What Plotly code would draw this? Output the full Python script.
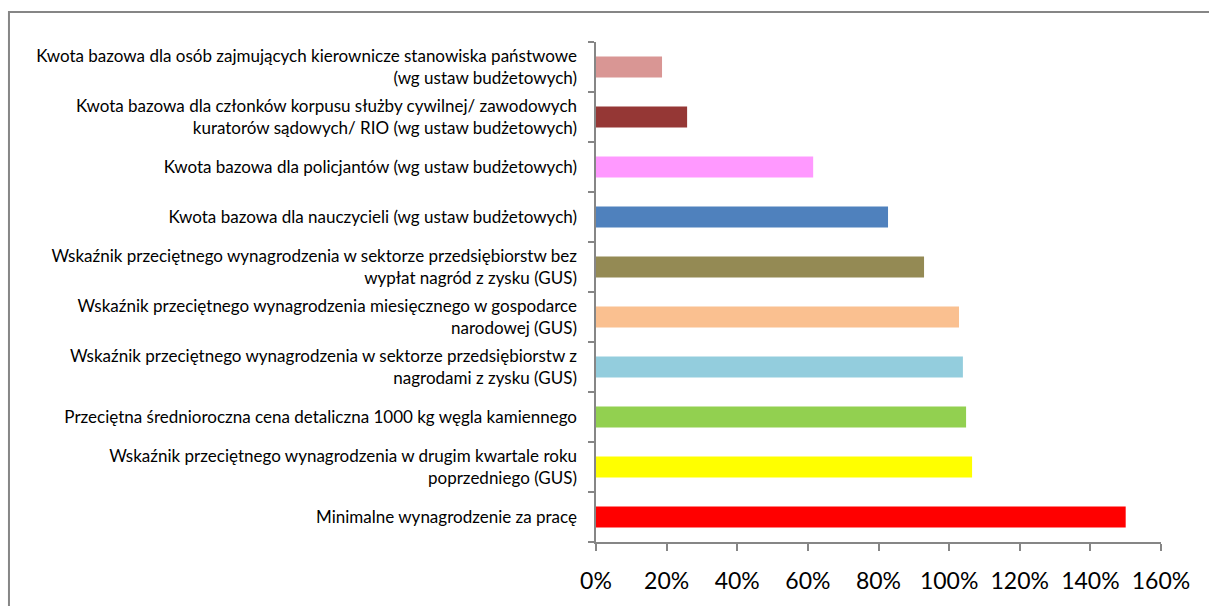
import plotly.graph_objects as go

categories = [
    "Minimalne wynagrodzenie za pracę",
    "Wskaźnik przeciętnego wynagrodzenia w drugim kwartale roku<br>poprzedniego (GUS)",
    "Przeciętna średnioroczna cena detaliczna 1000 kg węgla kamiennego",
    "Wskaźnik przeciętnego wynagrodzenia w sektorze przedsiębiorstw z<br>nagrodami z zysku (GUS)",
    "Wskaźnik przeciętnego wynagrodzenia miesięcznego w gospodarce<br>narodowej (GUS)",
    "Wskaźnik przeciętnego wynagrodzenia w sektorze przedsiębiorstw bez<br>wypłat nagród z zysku (GUS)",
    "Kwota bazowa dla nauczycieli (wg ustaw budżetowych)",
    "Kwota bazowa dla policjantów (wg ustaw budżetowych)",
    "Kwota bazowa dla członków korpusu służby cywilnej/ zawodowych<br>kuratorów sądowych/ RIO (wg ustaw budżetowych)",
    "Kwota bazowa dla osób zajmujących kierownicze stanowiska państwowe<br>(wg ustaw budżetowych)",
]
values = [1.50, 1.065, 1.048, 1.039, 1.028, 0.929, 0.827, 0.615, 0.258, 0.187]
colors = ["#FF0000", "#FFFF00", "#92D050", "#93CDDD", "#FAC090",
          "#948A54", "#4F81BD", "#FF99FF", "#953735", "#D99694"]
x_ticks = [0, 0.2, 0.4, 0.6, 0.8, 1.0, 1.2, 1.4, 1.6]

FONT = "Lato, 'Open Sans', sans-serif"
AXIS_COLOR = "#868686"

fig = go.Figure()
fig.add_trace(go.Bar(
    y=categories, x=values, orientation="h",
    marker=dict(color=colors, line=dict(width=0)),
    hoverinfo="x+y", showlegend=False,
))
# invisible trace on the overlay axis so the boundary ticks render
fig.add_trace(go.Scatter(x=[0], y=[0], yaxis="y2", mode="markers",
                         marker=dict(opacity=0), hoverinfo="skip", showlegend=False))

n = len(categories)
fig.update_layout(
    width=1209, height=606,
    margin=dict(l=596, r=48, t=42, b=62),
    paper_bgcolor="white", plot_bgcolor="white",
    bargap=0.58,
    font=dict(family=FONT, color="#000000"),
    xaxis=dict(
        range=[0, 1.6], tickvals=x_ticks, tickformat=".0%",
        showgrid=False, zeroline=False,
        showline=True, linecolor=AXIS_COLOR, linewidth=2,
        ticks="outside", ticklen=7, tickwidth=2, tickcolor=AXIS_COLOR,
        tickfont=dict(size=23, family=FONT, color="#000000"),
        ticklabelstandoff=10,
    ),
    yaxis=dict(
        type="category", categoryorder="array", categoryarray=categories,
        range=[-0.5, n - 0.5],
        showgrid=False, zeroline=False, showline=False,
        ticks="", tickfont=dict(size=17, family=FONT, color="#000000"),
        ticklabelstandoff=18,
    ),
    yaxis2=dict(
        overlaying="y", side="left", range=[-0.5, n - 0.5],
        tickvals=[i - 0.5 for i in range(n + 1)],
        showticklabels=False, showgrid=False, zeroline=False,
        showline=True, linecolor=AXIS_COLOR, linewidth=2,
        ticks="outside", ticklen=6, tickwidth=2, tickcolor=AXIS_COLOR,
    ),
    shapes=[dict(type="rect", xref="paper", yref="paper",
                 x0=-1.039, x1=1.3, y0=-0.4, y1=1.06,
                 line=dict(color=AXIS_COLOR, width=2), layer="below")],
)

fig.write_html(
    "out.html",
    config={"displayModeBar": False},
    post_script="document.body.style.margin='0';document.body.style.overflow='hidden';",
)
